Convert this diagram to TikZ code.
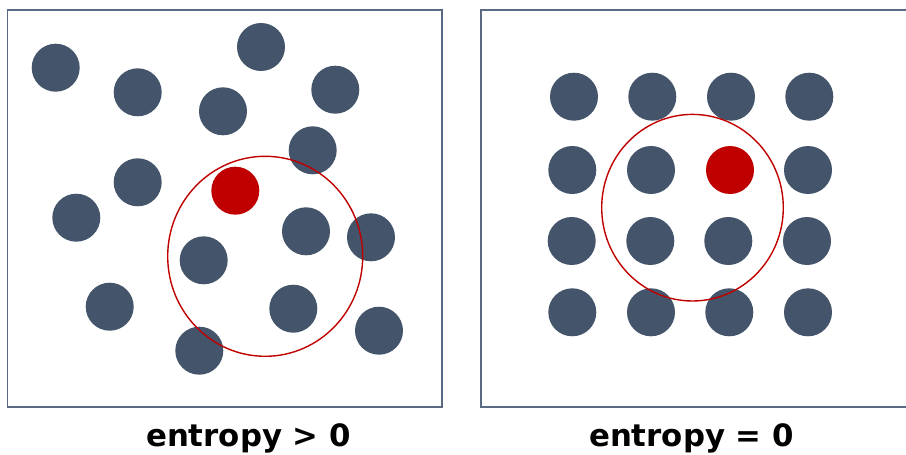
\documentclass[tikz,border=0pt]{standalone}
\usepackage{fontspec}
\setmainfont{DejaVu Sans}
\definecolor{slate}{HTML}{44546A}
\definecolor{boxline}{HTML}{5A6A82}
\definecolor{dred}{HTML}{C00000}
\begin{document}
\begin{tikzpicture}[x=1pt,y=-1pt,
  dot/.style={circle,fill=slate,draw=none,minimum size=48pt,inner sep=0pt},
  rdot/.style={circle,fill=dred,draw=none,minimum size=48pt,inner sep=0pt},
  panel/.style={draw=boxline,line width=1.2pt},
  ring/.style={draw=dred,line width=1.4pt},
  lbl/.style={font=\fontsize{30.8}{36}\selectfont\bfseries,anchor=base,inner sep=0pt}]
\useasboundingbox (0,0) rectangle (906,455);
% panels
\draw[panel] (7.5,10) rectangle (442,407);
\draw[panel] (481,10) rectangle (912,407);
% left: disordered
\node[dot] (a1) at (55.7,67.7) {};
\node[dot] (a2) at (137.7,92.3) {};
\node[dot] (a3) at (261,47) {};
\node[dot] (a4) at (223,111.3) {};
\node[dot] (a5) at (335.3,89.7) {};
\node[dot] (a6) at (312.7,150.3) {};
\node[dot] (a7) at (137.7,182.3) {};
\node[rdot] (a8) at (235.3,190.7) {};
\node[dot] (a9) at (76.3,217.7) {};
\node[dot] (a10) at (306,231.3) {};
\node[dot] (a11) at (371,237.3) {};
\node[dot] (a12) at (203.7,260.3) {};
\node[dot] (a13) at (109.7,306.7) {};
\node[dot] (a14) at (293.3,308.7) {};
\node[dot] (a15) at (379,330.7) {};
\node[dot] (a16) at (199.3,350.7) {};
\draw[ring] (265.2,256.3) ellipse [x radius=97.5, y radius=100];
% right: ordered
\node[dot] (b11) at (574,96.7) {};
\node[dot] (b12) at (652.3,96.7) {};
\node[dot] (b13) at (731,96.7) {};
\node[dot] (b14) at (809.3,96.7) {};
\node[dot] (b21) at (572.3,170) {};
\node[dot] (b22) at (651,170) {};
\node[rdot] (b23) at (730,170) {};
\node[dot] (b24) at (808,170) {};
\node[dot] (b31) at (571.7,241) {};
\node[dot] (b32) at (650.3,241) {};
\node[dot] (b33) at (728.3,241) {};
\node[dot] (b34) at (807,241) {};
\node[dot] (b41) at (572.3,312.3) {};
\node[dot] (b42) at (651,312.3) {};
\node[dot] (b43) at (729.3,312.3) {};
\node[dot] (b44) at (808,312.3) {};
\draw[ring] (692.5,207.7) ellipse [x radius=90.8, y radius=93.3];
% labels
\node[lbl] (t1) at (248.5,446) {entropy > 0};
\node[lbl] (t2) at (691.5,446) {entropy = 0};
\end{tikzpicture}
\end{document}
